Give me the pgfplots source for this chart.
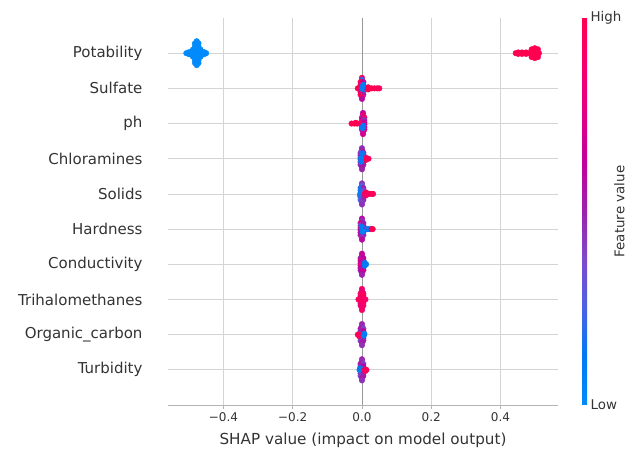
\documentclass[border=0pt]{standalone}
\usepackage{pgfplots}
\pgfplotsset{compat=1.18}
\usepackage{pgfplotstable}
\usepackage{fontspec}
\setmainfont{DejaVu Sans}
\definecolor{txt}{HTML}{333333}
\definecolor{gridc}{HTML}{D4D4D4}
\definecolor{zeroc}{HTML}{999999}
\definecolor{spinec}{HTML}{B5B5B5}

% Potability (row 9)
\pgfplotstableread{
x y c
-0.482 8.72 0
-0.472 8.72 0
-0.482 8.80 0
-0.472 8.80 0
-0.482 8.88 0
-0.472 8.88 0
-0.482 8.96 0
-0.472 8.96 0
-0.482 9.04 0
-0.472 9.04 0
-0.482 9.12 0
-0.472 9.12 0
-0.482 9.20 0
-0.472 9.20 0
-0.482 9.28 0
-0.472 9.28 0
-0.477 8.66 0
-0.477 9.34 0
-0.477 9.00 0
-0.488 8.90 0
-0.488 9.00 0
-0.488 9.10 0
-0.466 8.90 0
-0.466 9.00 0
-0.466 9.10 0
-0.507 9.00 0
-0.500 9.00 0
-0.494 9.00 0
-0.460 9.00 0
-0.454 9.00 0
-0.450 9.00 0
-0.499 9.03 0
-0.499 8.97 0
-0.456 9.03 0
-0.456 8.97 0
0.444 9.00 1
0.451 9.00 1
0.458 9.00 1
0.465 9.00 1
0.472 9.00 1
0.479 9.00 1
0.451 9.02 1
0.451 8.98 1
0.462 9.02 1
0.462 8.98 1
0.474 9.02 1
0.474 8.98 1
0.499 9.00 1
0.499 8.86 1
0.499 9.14 1
0.490 8.89 1
0.508 8.89 1
0.490 9.11 1
0.508 9.11 1
0.487 9.00 1
0.511 9.00 1
0.494 8.95 1
0.504 8.95 1
0.494 9.05 1
0.504 9.05 1
}\potab

% Small features (rows 8..0)
\pgfplotstableread{
x y c
0.000 8.30 0.9
0.000 8.24 0.2
-0.004 8.18 1
0.004 8.18 0.6
-0.004 8.10 0.9
0.004 8.10 0.15
-0.004 8.03 1
0.004 8.03 0.1
-0.012 8.00 1
0.004 7.97 0.55
-0.004 7.97 0.95
-0.004 7.90 0.85
0.004 7.90 0.2
-0.004 7.82 1
0.004 7.82 0.5
0.000 7.76 0.9
0.000 7.70 0.6
0.012 8.00 1
0.020 8.00 1
0.028 8.00 1
0.036 8.00 1
0.044 8.00 1
0.050 8.00 0.95
0.018 8.03 1
0.018 7.97 1
0.001 8.00 0.05
0.002 8.06 0.1
0.003 7.30 0.6
0.003 7.24 0.8
0.000 7.17 0.5
0.007 7.17 0.9
0.000 7.10 0.7
0.007 7.10 0.45
0.000 7.03 0.85
0.007 7.03 0.6
0.000 6.97 0.5
0.007 6.97 0.75
0.000 6.90 0.3
0.007 6.90 0.6
0.000 6.83 0.55
0.007 6.83 0.8
0.003 6.76 0.5
0.003 6.70 0.7
-0.030 7.00 1
-0.022 7.00 1
-0.014 7.00 1
-0.007 7.00 0.9
-0.018 7.02 1
0.002 6.88 0.05
0.004 6.94 0.15
0.000 6.30 0.45
0.000 6.24 0.5
-0.004 6.17 0.4
0.004 6.17 0.55
-0.004 6.10 0.5
0.004 6.10 0.35
-0.004 6.03 0.6
0.004 6.03 0.45
-0.004 5.97 0.55
0.004 5.97 0.4
-0.004 5.90 0.5
0.004 5.90 0.6
-0.004 5.83 0.45
0.004 5.83 0.5
0.000 5.76 0.55
0.000 5.70 0.5
0.008 6.00 1
0.014 6.00 1
0.019 6.00 0.95
0.010 6.04 0.9
0.010 5.96 1
-0.003 6.02 0.05
-0.002 5.92 0.1
0.001 6.15 0.15
0.000 5.30 0.45
0.000 5.24 0.3
-0.004 5.17 0.2
0.004 5.17 0.5
-0.004 5.10 0.15
0.004 5.10 0.4
-0.004 5.03 0.1
0.004 5.03 0.35
-0.006 4.97 0.05
0.004 4.97 0.3
-0.004 4.90 0.2
0.004 4.90 0.45
-0.004 4.83 0.25
0.004 4.83 0.5
0.000 4.76 0.4
0.000 4.70 0.45
0.008 5.00 0.95
0.015 5.00 1
0.022 5.00 1
0.029 5.00 1
0.032 5.00 0.95
0.012 5.04 1
0.012 4.96 0.9
0.000 4.30 0.6
0.000 4.24 0.45
-0.004 4.17 0.7
0.004 4.17 0.5
-0.004 4.10 0.4
0.004 4.10 0.55
-0.004 4.03 0.8
0.004 4.03 0.3
-0.004 3.97 0.5
0.004 3.97 0.45
-0.004 3.90 0.6
0.004 3.90 0.35
-0.004 3.83 0.55
0.004 3.83 0.5
0.000 3.76 0.45
0.000 3.70 0.6
0.010 4.00 0.5
0.016 4.00 0.15
0.022 4.00 0.1
0.028 4.00 0.8
0.031 4.00 1
0.002 3.93 0.05
-0.001 4.07 0.1
0.000 3.30 0.6
0.000 3.24 0.7
-0.004 3.17 0.5
0.004 3.17 0.65
-0.004 3.10 0.75
0.004 3.10 0.55
-0.004 3.03 0.6
0.004 3.03 0.7
-0.004 2.97 0.8
0.004 2.97 0.5
-0.004 2.90 0.65
0.004 2.90 0.6
-0.004 2.83 0.55
0.004 2.83 0.7
0.000 2.76 0.6
0.000 2.70 0.5
0.008 3.00 0.1
0.012 3.00 0.05
0.008 3.04 0.15
0.008 2.96 0.1
0.000 2.30 0.9
0.000 2.24 0.8
-0.004 2.17 0.95
0.004 2.17 0.85
-0.004 2.10 0.9
0.004 2.10 1
-0.004 2.03 0.85
0.004 2.03 0.9
-0.004 1.97 1
0.004 1.97 0.8
-0.004 1.90 0.9
0.004 1.90 0.85
-0.004 1.83 0.8
0.004 1.83 0.95
0.000 1.76 0.85
0.000 1.70 0.9
-0.008 2.00 1
0.008 2.00 0.95
0.010 2.00 0.9
-0.010 2.00 0.95
0.000 1.30 0.5
0.000 1.24 0.45
-0.004 1.17 0.55
0.004 1.17 0.4
-0.004 1.10 0.5
0.004 1.10 0.6
-0.004 1.03 0.45
0.004 1.03 0.5
-0.004 0.97 0.55
0.004 0.97 0.45
-0.004 0.90 0.5
0.004 0.90 0.6
-0.004 0.83 0.4
0.004 0.83 0.5
0.000 0.76 0.55
0.000 0.70 0.45
-0.008 1.00 1
-0.012 1.00 1
-0.008 0.96 0.95
0.007 1.02 0.05
0.005 0.97 0.1
0.000 0.30 0.5
0.000 0.24 0.45
-0.004 0.17 0.55
0.004 0.17 0.4
-0.004 0.10 0.5
0.004 0.10 0.6
-0.004 0.03 0.45
0.004 0.03 0.5
-0.004 -0.03 0.55
0.004 -0.03 0.45
-0.004 -0.10 0.5
0.004 -0.10 0.6
-0.004 -0.17 0.4
0.004 -0.17 0.5
0.000 -0.24 0.55
0.000 -0.30 0.45
-0.007 0.00 0.05
-0.005 0.04 0.1
0.008 0.00 1
0.013 0.00 1
0.010 -0.03 0.95
}\small

\begin{document}
\begin{tikzpicture}
\path[use as bounding box] (-168pt,-45pt) rectangle (462pt,405pt);
\begin{axis}[
  name=ax,
  at={(0pt,0pt)}, anchor=south west,
  width=390pt, height=387pt, scale only axis,
  xmin=-0.56, xmax=0.566, ymin=-1, ymax=10,
  axis x line*=bottom, axis y line*=left,
  x axis line style={draw=spinec, line width=0.8pt, -},
  y axis line style={draw=none},
  xtick={-0.4,-0.2,0,0.2,0.4},
  xticklabels={−0.4,−0.2,0.0,0.2,0.4},
  ytick={0,1,2,3,4,5,6,7,8,9},
  yticklabels={Turbidity,Organic\_carbon,Trihalomethanes,Conductivity,Hardness,Solids,Chloramines,ph,Sulfate,Potability},
  xtick align=outside,
  xtick style={draw=spinec, line width=0.8pt},
  major tick length=4pt,
  ytick style={draw=none},
  xticklabel style={font=\fontsize{12}{14}\selectfont, text=txt},
  yticklabel style={font=\fontsize{15}{18}\selectfont, text=txt, xshift=-22pt},
  xlabel={SHAP value (impact on model output)},
  xlabel style={font=\fontsize{15.2}{18}\selectfont, text=txt, yshift=-4pt},
  xmajorgrids, ymajorgrids,
  grid style={draw=gridc, line width=0.8pt},
  colormap={shap}{rgb255=(0,138,251) rgb255=(0,121,243) rgb255=(74,99,227) rgb255=(125,73,204) rgb255=(156,35,173) rgb255=(194,0,157) rgb255=(224,0,134) rgb255=(245,0,109) rgb255=(255,0,81)},
  point meta min=0, point meta max=1,
  colorbar right,
  colorbar style={
    at={(parent axis.north east)}, anchor=north west, xshift=15.5pt,
    width=5pt,
    ytick={0,1}, yticklabels={Low,High},
    major tick length=0pt,
    axis line style={draw=none},
    yticklabel style={font=\fontsize{13.4}{15}\selectfont, text=txt},
    ylabel={Feature value},
    ylabel shift=-14pt,
    ylabel style={font=\fontsize{13.4}{15}\selectfont, text=txt},
  },
  /pgf/number format/assume math mode=true,
]
\addplot[zeroc, line width=0.8pt] coordinates {(0,-1) (0,10)};
\addplot[scatter, only marks, mark=*, mark size=2.8pt, scatter src=explicit,
  scatter/use mapped color={draw=mapped color, fill=mapped color}]
  table[x=x, y=y, meta=c] {\small};
\addplot[scatter, only marks, mark=*, mark size=2.8pt, scatter src=explicit,
  scatter/use mapped color={draw=mapped color, fill=mapped color}]
  table[x=x, y=y, meta=c] {\potab};
\end{axis}
\end{tikzpicture}
\end{document}
